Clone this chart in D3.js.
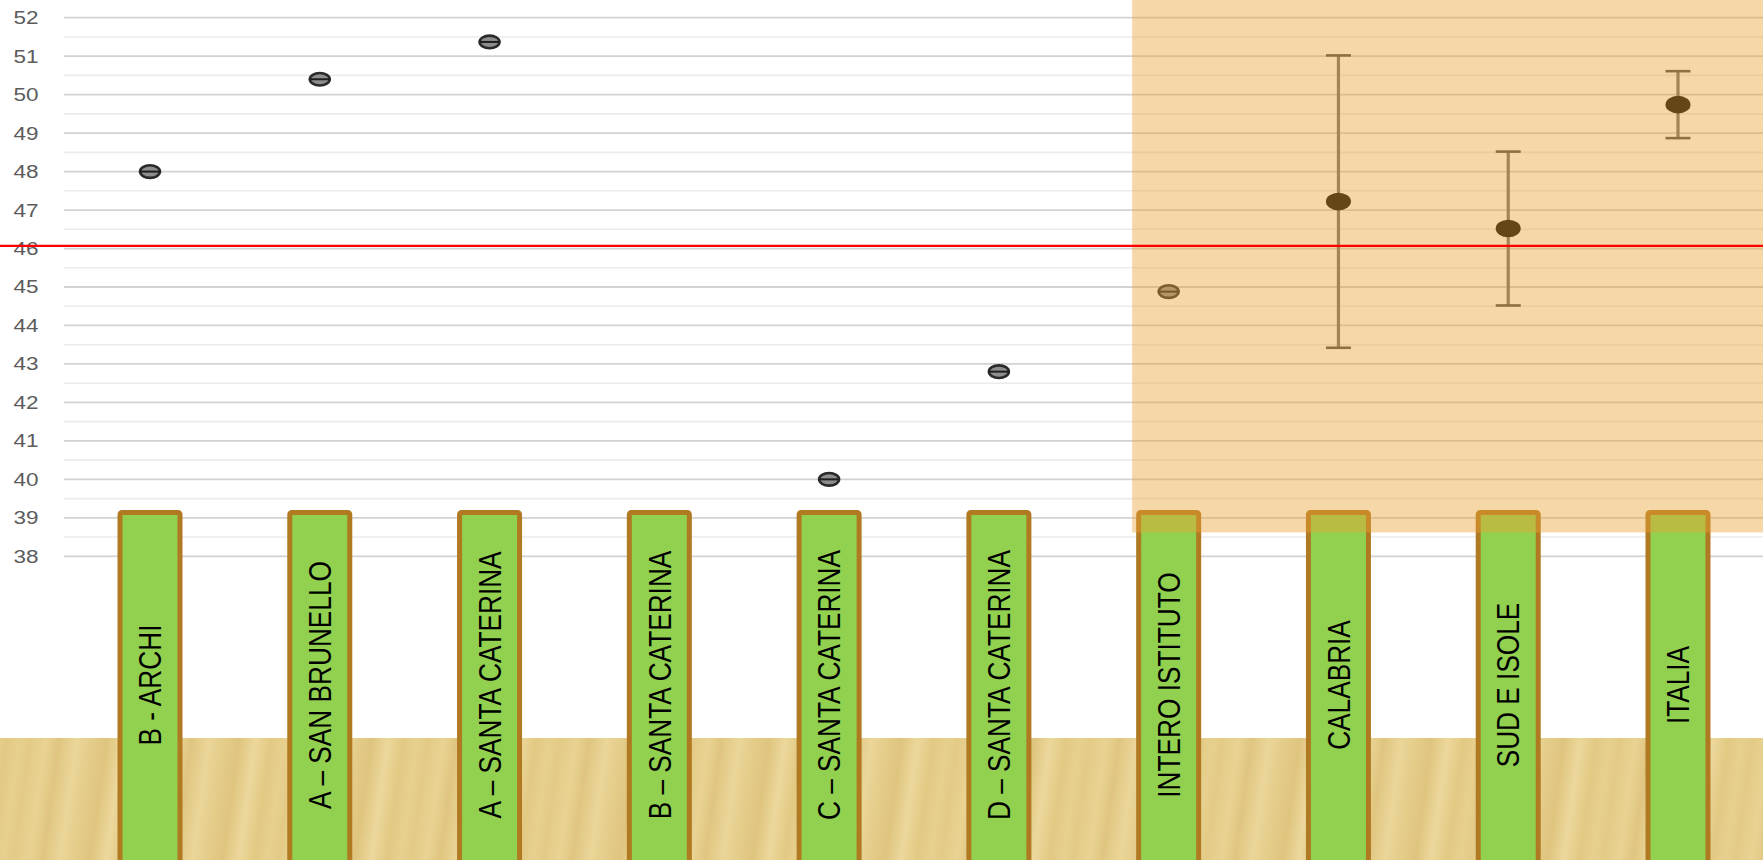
<!DOCTYPE html>
<html>
<head>
<meta charset="utf-8">
<script src="https://cdn.jsdelivr.net/npm/d3@7"></script>
<style>
  html, body { margin: 0; padding: 0; background: #fff; overflow: hidden; }
  svg { display: block; }
</style>
</head>
<body>
<svg id="chart" width="1763" height="860"></svg>
<script>
// ---------- data ----------
const categories = ["B - ARCHI", "A – SAN BRUNELLO", "A – SANTA CATERINA", "B – SANTA CATERINA",
  "C – SANTA CATERINA", "D – SANTA CATERINA", "INTERO ISTITUTO", "CALABRIA", "SUD E ISOLE", "ITALIA"];
const values = [48.0, 50.4, 51.37, null, 40.0, 42.8, 44.88, 47.22, 46.52, 49.74];
const errors = [0, 0, 0, 0, 0, 0, 0, 3.8, 2.0, 0.87];
const markerKinds = ["ring", "ring", "ring", "ring", "ring", "ring", "ring", "dot", "dot", "dot"];
const yTickValues = [38, 39, 40, 41, 42, 43, 44, 45, 46, 47, 48, 49, 50, 51, 52];
const yMinorValues = [38.5, 39.5, 40.5, 41.5, 42.5, 43.5, 44.5, 45.5, 46.5, 47.5, 48.5, 49.5, 50.5, 51.5];
const referenceValue = 46.07;
const highlightFrom = "INTERO ISTITUTO";
const highlightBottomValue = 38.62;

// ---------- layout ----------
const W = 1763, H = 860;
const gridLeft = 64;
const boxW = 60, boxStroke = 5, boxTop = 512.5;
const woodTop = 738;

const svg = d3.select("#chart");
const x = d3.scalePoint().domain(categories).range([150, 1678]);
const y = d3.scaleLinear().domain([38, 52]).range([556.3, 17.7]);

const defs = svg.append("defs");
// wood texture
const wg = defs.append("linearGradient")
  .attr("id", "wood").attr("gradientUnits", "userSpaceOnUse")
  .attr("x1", 0).attr("y1", 0).attr("x2", 130).attr("y2", 18)
  .attr("spreadMethod", "repeat");
[["0%", "#e3ca86"], ["12%", "#e9d393"], ["22%", "#e0c580"], ["35%", "#ead699"], ["47%", "#e4cc89"],
 ["58%", "#dfc47e"], ["70%", "#ecd89c"], ["82%", "#e2c983"], ["92%", "#e7d08f"], ["100%", "#e3ca86"]]
  .forEach(([o, c]) => wg.append("stop").attr("offset", o).attr("stop-color", c));

svg.append("rect").attr("width", W).attr("height", H).attr("fill", "#fff");

// gridlines
svg.append("g").selectAll("line").data(yMinorValues).join("line")
  .attr("x1", gridLeft).attr("x2", W)
  .attr("y1", d => y(d)).attr("y2", d => y(d))
  .attr("stroke", "#ebebeb").attr("stroke-width", 1.6);
svg.append("g").selectAll("line").data(yTickValues).join("line")
  .attr("x1", gridLeft).attr("x2", W)
  .attr("y1", d => y(d)).attr("y2", d => y(d))
  .attr("stroke", "#d2d2d2").attr("stroke-width", 1.8);

// y tick labels
svg.append("g").selectAll("text").data(yTickValues).join("text")
  .attr("transform", d => `translate(38.5,${y(d)}) scale(1.25,1)`)
  .attr("dy", "0.36em")
  .attr("text-anchor", "end")
  .attr("font-family", "'Liberation Sans', Arial, sans-serif")
  .attr("font-size", 18)
  .attr("fill", "#5c5c5c")
  .text(d => d);

// wood band
svg.append("rect").attr("x", 0).attr("y", woodTop).attr("width", W).attr("height", H - woodTop)
  .attr("fill", "url(#wood)");

// points
const pts = categories.map((c, i) => ({ c, v: values[i], e: errors[i], k: markerKinds[i] }))
  .filter(d => d.v !== null);

const gp = svg.append("g");
pts.filter(d => d.k === "dot").forEach(d => {
  const cx = x(d.c);
  gp.append("line").attr("x1", cx).attr("x2", cx)
    .attr("y1", y(d.v - d.e)).attr("y2", y(d.v + d.e))
    .attr("stroke", "#6e6e6e").attr("stroke-width", 3.2);
  [d.v - d.e, d.v + d.e].forEach(b => {
    gp.append("line").attr("x1", cx - 12.5).attr("x2", cx + 12.5)
      .attr("y1", y(b)).attr("y2", y(b))
      .attr("stroke", "#4a4a4a").attr("stroke-width", 2.6);
  });
  gp.append("ellipse").attr("cx", cx).attr("cy", y(d.v))
    .attr("rx", 12.5).attr("ry", 8.8).attr("fill", "#000");
});
pts.filter(d => d.k === "ring").forEach(d => {
  const cx = x(d.c), cy = y(d.v);
  gp.append("ellipse").attr("cx", cx).attr("cy", cy)
    .attr("rx", 10).attr("ry", 6.3)
    .attr("fill", "#8e8e8e").attr("stroke", "#2a2a2a").attr("stroke-width", 2.6);
  gp.append("line").attr("x1", cx - 10).attr("x2", cx + 10)
    .attr("y1", cy).attr("y2", cy)
    .attr("stroke", "#1e1e1e").attr("stroke-width", 2);
});

// category boxes with labels
const gb = svg.append("g").selectAll("g").data(categories).join("g");
gb.append("rect")
  .attr("x", d => x(d) - boxW / 2).attr("y", boxTop)
  .attr("width", boxW).attr("height", H - boxTop + 20)
  .attr("rx", 2)
  .attr("fill", "#92d050").attr("stroke", "#b07a22").attr("stroke-width", boxStroke);
const labelMid = (boxTop - boxStroke / 2 + H) / 2;
gb.append("text")
  .attr("transform", d => `translate(${x(d)},${labelMid}) rotate(-90) scale(0.82,1)`)
  .attr("dy", "0.35em")
  .attr("text-anchor", "middle")
  .attr("font-family", "'Liberation Sans', Arial, sans-serif")
  .attr("font-size", 32)
  .attr("fill", "#000")
  .text(d => d);

// highlighted region overlay
const hx = x(highlightFrom) - boxW / 2 - boxStroke / 2 - 4;
svg.append("rect").attr("x", hx).attr("y", 0)
  .attr("width", W - hx).attr("height", y(highlightBottomValue))
  .attr("fill", "rgb(234,162,50)").attr("fill-opacity", 0.43);

// reference line
svg.append("line").attr("x1", 0).attr("x2", W)
  .attr("y1", y(referenceValue)).attr("y2", y(referenceValue))
  .attr("stroke", "#ff0000").attr("stroke-width", 2.4);
</script>
</body>
</html>
